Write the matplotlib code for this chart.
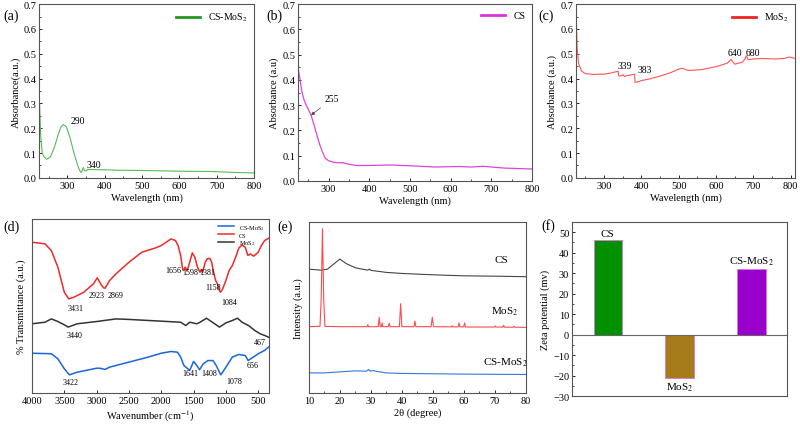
import matplotlib
matplotlib.use("Agg")
import matplotlib.pyplot as plt
from matplotlib.lines import Line2D
from matplotlib.ticker import MultipleLocator

plt.rcParams['font.family'] = ['Liberation Serif', 'DejaVu Serif']
plt.rcParams['font.size'] = 7.5
plt.rcParams['mathtext.fontset'] = 'stix'
plt.rcParams['xtick.direction'] = 'in'
plt.rcParams['ytick.direction'] = 'in'
plt.rcParams['axes.edgecolor'] = '#555555'
plt.rcParams['axes.linewidth'] = 0.8

# ---- UV-vis data ----
wl_a = [226, 229, 233, 238, 245, 255, 265, 275, 283, 290, 298, 308, 318, 328, 335, 338, 341, 343, 346, 350, 356, 362,
        380, 420, 425, 500, 600, 680, 700, 750, 800]
abs_a = [0.30, 0.17, 0.10, 0.085, 0.075, 0.085, 0.12, 0.17, 0.205, 0.215, 0.205, 0.16, 0.10, 0.05, 0.025, 0.022, 0.035,
         0.042, 0.03, 0.028, 0.035, 0.034, 0.033, 0.032, 0.031, 0.030, 0.027, 0.026, 0.025, 0.022, 0.020]

wl_b = [225, 230, 235, 240, 245, 250, 257, 262, 270, 278, 285, 292, 300, 310, 320, 335, 350, 370, 400, 450, 500, 560,
        620, 650, 680, 730, 800]
abs_b = [0.45, 0.40, 0.35, 0.32, 0.30, 0.285, 0.26, 0.235, 0.19, 0.145, 0.115, 0.09, 0.08, 0.075, 0.072, 0.072, 0.066,
         0.061, 0.061, 0.063, 0.060, 0.055, 0.057, 0.055, 0.058, 0.051, 0.047]

wl_c = [225, 228, 232, 240, 250, 270, 300, 320, 338, 339, 342, 352, 355, 360, 370, 382, 383, 386, 400, 420, 450, 480,
        500, 510, 520, 530, 560, 600, 630, 640, 645, 650, 660, 670, 677, 681, 686, 700, 720, 760, 785, 795, 810]
abs_c = [0.70, 0.52, 0.46, 0.43, 0.42, 0.417, 0.418, 0.423, 0.43, 0.412, 0.41, 0.415, 0.408, 0.412, 0.414, 0.418, 0.385,
         0.385, 0.392, 0.398, 0.41, 0.425, 0.438, 0.442, 0.435, 0.433, 0.436, 0.448, 0.462, 0.477, 0.468, 0.458, 0.462,
         0.466, 0.478, 0.492, 0.476, 0.479, 0.481, 0.479, 0.482, 0.487, 0.482]

# ---- FTIR data ----
wn_cs = [4000, 3800, 3700, 3600, 3500, 3431, 3350, 3200, 3050, 2990, 2923, 2890, 2869, 2800, 2700, 2500, 2300, 2100,
         2000, 1900, 1850, 1780, 1740, 1700, 1670, 1656, 1630, 1598, 1560, 1520, 1480, 1440, 1400, 1381, 1360, 1320,
         1290, 1250, 1220, 1190, 1158, 1130, 1100, 1084, 1050, 1000, 950, 900, 850, 800, 750, 700, 660, 620, 570, 500,
         450, 400, 340]
tr_cs = [86.6, 85.7, 81.8, 72.3, 57.9, 54.1, 55.1, 57.9, 62.7, 66.2, 61.8, 60.4, 60.2, 64.6, 68.5, 75.1, 80.9, 83.2,
         84.7, 87.2, 88.5, 87.6, 84.7, 79.0, 71.3, 70.4, 72.3, 70.4, 75.1, 80.5, 78.0, 72.3, 69.4, 70.9, 69.4, 75.1,
         77.1, 77.4, 75.1, 69.4, 64.6, 62.7, 58.9, 57.9, 59.8, 64.6, 70.4, 73.2, 78.0, 83.2, 85.1, 83.7, 79.0, 79.9,
         78.6, 80.9, 84.7, 87.6, 88.9]

wn_mos2 = [4000, 3800, 3700, 3600, 3500, 3440, 3300, 3000, 2700, 2500, 2000, 1700, 1620, 1560, 1450, 1400, 1300, 1250,
           1150, 1100, 1000, 900, 820, 750, 650, 550, 467, 400, 340]
tr_mos2 = [39.8, 40.7, 42.6, 41.1, 39.2, 37.9, 39.8, 41.1, 42.6, 42.3, 41.3, 40.7, 38.8, 40.7, 39.8, 40.7, 43.0, 41.7,
           39.2, 37.9, 40.3, 41.7, 43.0, 40.7, 38.8, 35.9, 34.0, 33.1, 32.1]

wn_csm = [4000, 3700, 3600, 3500, 3422, 3300, 3000, 2950, 2869, 2800, 2500, 2200, 2000, 1850, 1750, 1700, 1650, 1600,
          1560, 1500, 1450, 1408, 1350, 1280, 1200, 1150, 1100, 1078, 1000, 950, 900, 800, 700, 656, 600, 500, 400, 340]
tr_csm = [22.9, 22.6, 19.7, 14.0, 10.5, 12.0, 14.3, 14.3, 13.6, 14.9, 17.8, 20.7, 22.9, 23.9, 23.5, 20.7, 15.9, 14.3,
          13.0, 18.2, 15.9, 13.4, 16.8, 18.7, 18.7, 15.9, 12.0, 10.5, 14.9, 17.8, 20.7, 22.2, 21.6, 18.7, 20.1, 22.6,
          24.5, 26.4]

ftir_labels = ["3431", "2923", "2869", "1656", "1598", "1381", "1158", "1084", "3440", "467", "3422", "1641", "1408",
               "1078", "656"]
ftir_lx = [3332, 3000, 2715, 1806, 1544, 1292, 1200, 953, 3347, 480, 3399, 1549, 1261, 865, 583]
ftir_ly = [49.0, 56.6, 56.6, 70.4, 69.4, 69.4, 60.8, 52.2, 33.5, 29.3, 6.3, 11.7, 11.7, 6.7, 16.3]

# ---- XRD data ----
tt_cs = [10, 14, 16, 18, 20, 22, 25, 29, 29.5, 30, 35, 40, 50, 60, 70, 80]
int_cs = [72.4, 71.8, 72.4, 75.3, 78.3, 75.7, 73.2, 71.8, 72.4, 71.7, 70.5, 69.9, 69.1, 68.5, 68.3, 68.0]

tt_mos2 = [10, 13.6, 14.0, 14.4, 14.8, 15.2, 20, 28.8, 29.0, 29.3, 32.4, 32.7, 33.0, 33.4, 33.6, 33.9, 35.6, 35.9,
           36.2, 39.2, 39.6, 40.0, 43.9, 44.2, 44.5, 49.4, 49.8, 50.2, 56.0, 56.2, 56.4, 58.1, 58.4, 58.7, 59.9, 60.2,
           60.5, 69.8, 70.1, 70.4, 72.5, 72.8, 73.1, 75.8, 76.1, 76.4, 80]
int_mos2 = [38.8, 39.0, 55.0, 96.0, 55.0, 39.0, 38.8, 38.8, 40.0, 38.8, 38.8, 44.3, 38.8, 38.8, 41.0, 38.8, 38.8, 40.8,
            38.8, 38.8, 52.2, 38.8, 38.8, 42.1, 38.8, 38.8, 44.3, 38.8, 38.7, 39.4, 38.7, 38.7, 41.0, 38.7, 38.7, 41.0,
            38.6, 38.6, 39.2, 38.6, 38.6, 39.6, 38.5, 38.5, 39.0, 38.5, 38.4]

tt_csm = [10, 15, 20, 25, 28.5, 29.3, 29.8, 30.8, 31.5, 35, 40, 50, 60, 80]
int_csm = [11.8, 11.8, 12.4, 13.0, 12.8, 13.8, 12.8, 13.2, 12.8, 11.8, 11.5, 11.3, 11.1, 10.9]

# ---- Zeta potential ----
samples = ["CS", "MoS$_2$", "CS-MoS$_2$"]
zeta = [46, -21, 32]
bar_colors = ["#009000", "#a67c1a", "#9a00cc"]

fig = plt.figure(figsize=(8, 4.27), dpi=100)

def uv_axes(ax, ylabel):
    ax.set_ylim(0, 0.7)
    ax.yaxis.set_major_locator(MultipleLocator(0.1))
    ax.yaxis.set_minor_locator(MultipleLocator(0.05))
    ax.xaxis.set_major_locator(MultipleLocator(100))
    ax.xaxis.set_minor_locator(MultipleLocator(50))
    ax.set_xticks([300, 400, 500, 600, 700, 800])
    ax.set_xlabel("Wavelength (nm)", labelpad=2)
    ax.set_ylabel(ylabel, labelpad=2)
    ax.tick_params(length=2.5, width=0.6, pad=2)
    ax.tick_params(which='minor', length=1.5, width=0.5)

# (a)
ax = fig.add_axes([0.049, 0.581, 0.2685, 0.407])
ax.plot(wl_a, abs_a, color='#55bb55', lw=0.8)
ax.set_xlim(225, 800)
uv_axes(ax, "Absorbance(a.u.)")
ax.text(310, 0.23, "290", fontsize=7, va='center')
ax.text(352, 0.055, "340", fontsize=7, va='center')
ax.legend([Line2D([], [], color='#229922', lw=2)], ["CS-MoS$_2$"], loc='upper right', frameon=False,
          fontsize=7, handlelength=2.5, borderaxespad=0.3)

# (b)
ax = fig.add_axes([0.3725, 0.574, 0.2925, 0.414])
ax.plot(wl_b, abs_b, color='#dd44dd', lw=0.9)
ax.set_xlim(225, 800)
uv_axes(ax, "Absorbance (a.u)")
ax.annotate("255", xy=(257, 0.26), xytext=(291, 0.325), fontsize=7, va='center',
            arrowprops=dict(arrowstyle='-|>', color='#444444', lw=0.5, mutation_scale=5, shrinkB=0))
ax.legend([Line2D([], [], color='#dd33dd', lw=2)], ["CS"], loc='upper right', frameon=False,
          fontsize=7, handlelength=2.5, borderaxespad=0.3)

# (c)
ax = fig.add_axes([0.72, 0.581, 0.274, 0.407])
ax.plot(wl_c, abs_c, color='#ff5555', lw=0.8)
ax.set_xlim(225, 812)
uv_axes(ax, "Absorbance (a.u.)")
for t, x, y in [("339", 337, 0.452), ("383", 390, 0.436), ("640", 630, 0.506), ("680", 679, 0.506)]:
    ax.text(x, y, t, fontsize=7, va='center')
ax.legend([Line2D([], [], color='#ee2222', lw=2)], ["MoS$_2$"], loc='upper right', frameon=False,
          fontsize=7, handlelength=2.5, borderaxespad=0.3)

# (d)
ax = fig.add_axes([0.04, 0.077, 0.296, 0.408])
l1, = ax.plot(wn_csm, tr_csm, color='#1a66dd', lw=1.1)
l2, = ax.plot(wn_cs, tr_cs, color='#ee2a2a', lw=1.1)
l3, = ax.plot(wn_mos2, tr_mos2, color='#333333', lw=1.1)
ax.set_xlim(4000, 336)
ax.set_ylim(0, 100)
ax.set_yticks([])
ax.set_xticks([4000, 3500, 3000, 2500, 2000, 1500, 1000, 500])
ax.tick_params(length=2.5, width=0.6, pad=2)
ax.set_xlabel("Wavenumber (cm$^{-1}$)", labelpad=2)
ax.set_ylabel("% Transmittance (a.u.)", labelpad=4)
for t, x, y in zip(ftir_labels, ftir_lx, ftir_ly):
    ax.text(x, y, t, fontsize=5.8, ha='center', va='center')
ax.legend([l1, l2, l3], ["CS-MoS$_2$", "CS", "MoS$_2$"], loc='upper right', frameon=False, fontsize=4.5,
          handlelength=2.5, labelspacing=0.1, borderaxespad=0.2)

# (e)
ax = fig.add_axes([0.386, 0.077, 0.2715, 0.401])
ax.plot(tt_cs, int_cs, color='#444444', lw=0.8)
ax.plot(tt_mos2, int_mos2, color='#ff4a4a', lw=0.8)
ax.plot(tt_csm, int_csm, color='#3377dd', lw=0.8)
ax.set_xlim(10, 80)
ax.set_ylim(0, 100)
ax.set_yticks([])
ax.xaxis.set_major_locator(MultipleLocator(10))
ax.xaxis.set_minor_locator(MultipleLocator(5))
ax.tick_params(length=2.5, width=0.6, pad=2)
ax.tick_params(which='minor', length=1.5, width=0.5)
ax.set_xlabel("2θ (degree)", labelpad=2)
ax.set_ylabel("Intensity (a.u.)", labelpad=4)
ax.text(72.2, 78.3, "CS", fontsize=8, ha='center', va='center')
ax.text(73.3, 48.2, "MoS$_2$", fontsize=8, ha='center', va='center')
ax.text(73.5, 18.4, "CS-MoS$_2$", fontsize=8, ha='center', va='center')

# (f)
ax = fig.add_axes([0.715, 0.070, 0.269, 0.408])
pos = [1, 2, 3]
ax.bar(pos, zeta, width=0.4, color=bar_colors, edgecolor='#dd77dd', linewidth=0.6)
ax.axhline(0, color='#666666', lw=0.8)
ax.set_xlim(0.5, 3.5)
ax.set_ylim(-30, 55)
ax.set_xticks([])
ax.yaxis.set_major_locator(MultipleLocator(10))
ax.yaxis.set_minor_locator(MultipleLocator(5))
ax.tick_params(length=2.5, width=0.6, pad=2)
ax.tick_params(which='minor', length=1.5, width=0.5)
ax.set_ylabel("Zeta potential (mv)", labelpad=2)
for p, v, name in zip(pos, zeta, samples):
    if v >= 0:
        ax.text(p, v + 1, name, fontsize=8, ha='center', va='bottom')
    else:
        ax.text(p, v - 1.5, name, fontsize=8, ha='center', va='top')

for lab, x, y in [("(a)", 3, 411), ("(b)", 266, 411), ("(c)", 538, 411),
                  ("(d)", 3, 200), ("(e)", 277, 200), ("(f)", 541, 201)]:
    fig.text(x / 800, y / 427, lab, fontsize=10, va='center', ha='left')

fig.savefig("out.png", dpi=100)
